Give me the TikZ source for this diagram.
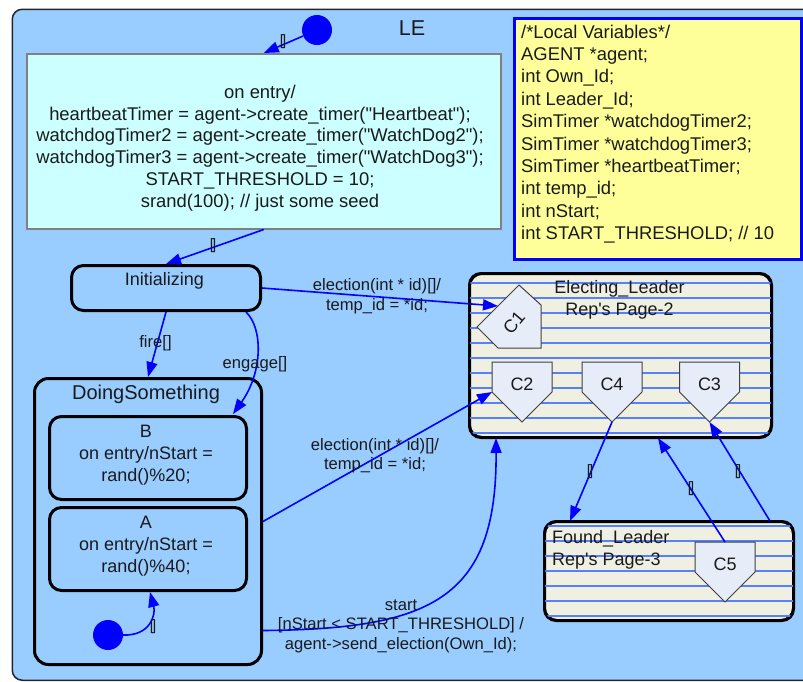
\documentclass[tikz,border=0pt]{standalone}
\usepackage{fontspec}
\setmainfont{Liberation Sans}
\newfontfamily\rawf{Liberation Sans}
\usetikzlibrary{arrows.meta,calc}
\definecolor{lebg}{HTML}{99CCFF}
\definecolor{entrybg}{HTML}{CCFFFF}
\definecolor{notebg}{HTML}{FFFF99}
\definecolor{subbg}{HTML}{EFEFE2}
\definecolor{stripe}{HTML}{5580FF}
\definecolor{connbg}{HTML}{E6ECF8}
\definecolor{arrowblue}{HTML}{0000FF}
\definecolor{ink}{HTML}{1A1A1A}
\newcommand\bodyfont{\rawf\fontsize{18}{21.8}\selectfont}
\newcommand\bigbodyfont{\rawf\fontsize{18.4}{21.8}\selectfont}
\newcommand\labfont{\rawf\fontsize{16.6}{19.6}\selectfont}
\newcommand\dq{\symbol{34}}
\newcommand\hplate[4]{%
  \coordinate (#1top) at (#2,#3);
  \coordinate (#1tip) at (#2,#3+60);
  \coordinate (#1ls) at (#2-30,#3+30);
  \draw[connshape] (#2-30,#3) -- (#2+30,#3) -- (#2+30,#3+30) -- (#2,#3+60) -- (#2-30,#3+30) -- cycle;
  \node[ctext] (#1) at (#2,#3+22) {#4};
}
\tikzset{
  container/.style={draw=black!85, line width=1.5pt, rounded corners=10pt, fill=lebg, anchor=north west, inner sep=0},
  entrybox/.style={draw=black!50, line width=1.5pt, fill=entrybg, anchor=north west, inner sep=0},
  notebox/.style={draw=arrowblue, line width=3pt, fill=notebg, anchor=north west, inner sep=0},
  statebox/.style={draw=black, line width=3pt, rounded corners=12pt, fill=lebg, anchor=north west, inner sep=0},
  subbox/.style={draw=black, line width=2pt, rounded corners=12pt, fill=subbg, anchor=north west, inner sep=0},
  stripeline/.style={draw=stripe, line width=2pt},
  connshape/.style={draw=black!75, line width=1pt, fill=connbg},
  ctext/.style={font=\bodyfont, text=ink, inner sep=0},
  btext/.style={font=\bodyfont, text=ink, inner sep=0, align=center},
  ltext/.style={font=\labfont, text=ink, inner sep=0, align=center},
  emptylab/.style={font=\rawf\fontsize{15}{15}\selectfont, text=ink, inner sep=0},
  dot/.style={circle, fill=arrowblue, minimum size=30pt, inner sep=0},
  arr/.style={draw=arrowblue, line width=1.6pt, -{Triangle[length=15pt,width=11pt]}},
}
\begin{document}
\begin{tikzpicture}[x=1pt,y=-1pt]
\useasboundingbox (0,0) rectangle (803,681);
\clip (0,0) rectangle (803,681);
\fill[white] (0,0) rectangle (803,681);

% outer state LE
\node[container, minimum width=840pt, minimum height=671pt] (le) at (11.5,8.5) {};
\node[font=\rawf\fontsize{21.5}{24}\selectfont, text=ink, inner sep=0] (letitle) at (412,28) {LE};

% entry action box
\node[entrybox, minimum width=474pt, minimum height=175pt] (entry) at (26,53) {};
\node[font=\bigbodyfont, text=ink, inner sep=0, align=center] (entrytext) at (260,148) {on entry/\\heartbeatTimer = agent->create\_timer(\dq Heartbeat\dq);\\watchdogTimer2 = agent->create\_timer(\dq WatchDog2\dq);\\watchdogTimer3 = agent->create\_timer(\dq WatchDog3\dq);\\START\_THRESHOLD = 10;\\srand(100); // just some seed};

% local variables note
\node[notebox, minimum width=287pt, minimum height=241pt] (note) at (513,17) {};
\node[font=\rawf\fontsize{18.4}{22.4}\selectfont, text=ink, inner sep=0, align=left, anchor=west] (notetext) at (521,134) {/*Local Variables*/\\AGENT *agent;\\int Own\_Id;\\int Leader\_Id;\\SimTimer *watchdogTimer2;\\SimTimer *watchdogTimer3;\\SimTimer *heartbeatTimer;\\int temp\_id;\\int nStart;\\int START\_THRESHOLD; // 10};

% initial pseudo state
\node[dot] (d1) at (317,30) {};

% Initializing
\node[statebox, minimum width=189pt, minimum height=45pt] (init) at (70,264) {};
\node[ctext] (inittext) at (164.5,281) {Initializing};

% DoingSomething
\node[statebox, rounded corners=14pt, minimum width=227pt, minimum height=286pt] (ds) at (33,377) {};
\node[font=\rawf\fontsize{20}{24}\selectfont, text=ink, inner sep=0] (dstitle) at (146,394) {DoingSomething};
\node[statebox, minimum width=197pt, minimum height=83pt] (B) at (48,415) {};
\node[btext] (btext) at (146,455) {B\\on entry/nStart =\\rand()\%20;};
\node[statebox, minimum width=197pt, minimum height=83pt] (A) at (48,506) {};
\node[btext] (atext) at (146,546) {A\\on entry/nStart =\\rand()\%40;};
\node[dot] (d2) at (108,635) {};

% Electing_Leader submachine
\node[subbox, minimum width=301pt, minimum height=163pt] (elect) at (469,273) {};
\begin{scope}
  \clip[rounded corners=12pt] (elect.south west) rectangle (elect.north east);
  \foreach \yy in {283,298,...,433} \draw[stripeline] (460,\yy) -- (780,\yy);
\end{scope}
\draw[draw=black, line width=2pt, rounded corners=12pt] (elect.south west) rectangle (elect.north east);
\node[btext] (electtext) at (619.5,300) {Electing\_Leader\\Rep's Page-2};

% Found_Leader submachine
\node[subbox, minimum width=248pt, minimum height=98pt] (found) at (544,521) {};
\begin{scope}
  \clip[rounded corners=12pt] (found.south west) rectangle (found.north east);
  \foreach \yy in {526,541,...,616} \draw[stripeline] (535,\yy) -- (800,\yy);
\end{scope}
\draw[draw=black, line width=2pt, rounded corners=12pt] (found.south west) rectangle (found.north east);
\node[font=\bodyfont, text=ink, inner sep=0, align=left, anchor=west] (foundtext) at (552,550) {Found\_Leader\\Rep's Page-3};

% connection points
\coordinate (c1a) at (519,285);
\coordinate (c1b) at (541,305);
\coordinate (c1c) at (541,348);
\coordinate (c1d) at (498,348);
\coordinate (c1e) at (477,327);
\draw[connshape] (c1a) -- (c1b) -- (c1c) -- (c1d) -- (c1e) -- cycle;
\node[ctext, rotate=50] (c1) at (514,323) {C1};
\hplate{c2}{522}{362}{C2}
\hplate{c4}{612}{362}{C4}
\hplate{c3}{709.5}{362}{C3}
\hplate{c5}{725}{542}{C5}

% transitions
\draw[arr] (d1) -- (entry.north);
\node[emptylab] (l1) at (283,42) {[\kern-2pt]};

\draw[arr] (entry.south) -- (init.north);
\node[emptylab] (l2) at (213,246) {[\kern-2pt]};

\draw[arr] (init.south) -- (ds.north);
\node[ltext] (lfire) at (155.5,343) {fire[]};

\draw[arr] ($(init.south east)+(-16,0)$) .. controls (263,328) and (263,372) .. ($(B.north east)+(-15,-1)$);
\node[ltext] (lengage) at (255,364) {engage[]};

\draw[arr] (init.east) -- ($(c1e)!0.5!(c1a)$);
\node[ltext] (lel1) at (377,296) {election(int * id)[]/\\temp\_id = *id;};

\draw[arr] (ds.east) -- (c2ls);
\node[ltext] (lel2) at (375,455.5) {election(int * id)[]/\\temp\_id = *id;};

\draw[arr] ($(ds.east)+(0,109)$) .. controls (430,629) and (497,600) .. ($(elect.south west)+(27,0)$);
\node[ltext] (lstart) at (401,626) {start\\{}[nStart < START\_THRESHOLD] /\\agent->send\_election(Own\_Id);};

\draw[arr] (d2.east) .. controls (150,636) and (156,615) .. ($(A.south)+(2,0)$);
\node[emptylab] (l3) at (153,627) {[\kern-2pt]};

\draw[arr] (c4tip) -- ($(found.north west)+(26,0)$);
\node[emptylab] (l4) at (590,472) {[\kern-2pt]};

\draw[arr] (c5top) -- ($(elect.south west)+(189,0)$);
\node[emptylab] (l5) at (691,489) {[\kern-2pt]};

\draw[arr] ($(found.north east)+(-24,0)$) -- (c3tip);
\node[emptylab] (l6) at (738,472) {[\kern-2pt]};
\end{tikzpicture}
\end{document}
